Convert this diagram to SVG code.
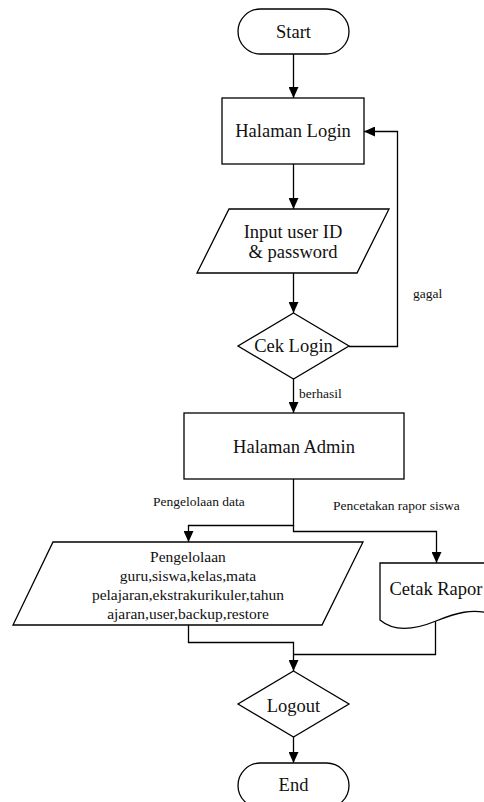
<svg xmlns="http://www.w3.org/2000/svg" width="484" height="802" viewBox="0 0 484 802">
<style>
.s{fill:#fff;stroke:#000;stroke-width:1.3}
.t{font-family:"Liberation Serif","Times New Roman",serif;font-size:18.5px;fill:#111;text-anchor:middle}
.p{font-family:"Liberation Serif","Times New Roman",serif;font-size:15.5px;fill:#111;text-anchor:middle}
.l{font-family:"Liberation Serif","Times New Roman",serif;font-size:13.5px;fill:#111}
.c{fill:none;stroke:#000;stroke-width:1.3}
</style>
<defs>
<marker id="a" markerUnits="userSpaceOnUse" markerWidth="11" markerHeight="10" refX="11" refY="5" orient="auto">
<path d="M0,0 L11,5 L0,10 Z" fill="#000"/>
</marker>
</defs>
<rect width="484" height="802" fill="#fff"/>
<g id="connectors">
<path class="c" d="M293.5,54 V98" marker-end="url(#a)"/>
<path class="c" d="M293.5,164 V209" marker-end="url(#a)"/>
<path class="c" d="M293.5,273 V313" marker-end="url(#a)"/>
<path class="c" d="M349,346.5 H397.5 V131.5 H364" marker-end="url(#a)"/>
<path class="c" d="M293.5,379 V413" marker-end="url(#a)"/>
<path class="c" d="M293.5,479 V525.5 H188.5 V542" marker-end="url(#a)"/>
<path class="c" d="M293.5,525 V531.5 H436.5 V563" marker-end="url(#a)"/>
<path class="c" d="M188.5,625 V642.5 H293.5 V671" marker-end="url(#a)"/>
<path class="c" d="M435.5,621 V654.5 H293.5"/>
<path class="c" d="M293.5,737 V763" marker-end="url(#a)"/>
<text class="l" x="413" y="298">gagal</text>
<text class="l" x="299" y="398">berhasil</text>
<text class="l" x="153" y="506">Pengelolaan data</text>
<text class="l" x="333" y="510">Pencetakan rapor siswa</text>
</g>
<g id="start">
<rect class="s" x="238" y="9" width="111" height="45" rx="22.5"/>
<text class="t" x="293.5" y="38">Start</text>
</g>
<g id="halaman-login">
<rect class="s" x="222" y="98" width="142" height="66"/>
<text class="t" x="293" y="137">Halaman Login</text>
</g>
<g id="input-login">
<polygon class="s" points="229,209 389,209 357,273 197,273"/>
<text class="t" x="293" y="238">Input user ID</text>
<text class="t" x="293" y="258">&amp; password</text>
</g>
<g id="cek-login">
<polygon class="s" points="293.5,313 349,346 293.5,379 238,346"/>
<text class="t" x="293.5" y="352">Cek Login</text>
</g>
<g id="halaman-admin">
<rect class="s" x="184" y="413" width="220" height="66"/>
<text class="t" x="294" y="453">Halaman Admin</text>
</g>
<g id="pengelolaan">
<polygon class="s" points="53,542 363,542 322,625 13,625"/>
<text class="p" x="188" y="562">Pengelolaan</text>
<text class="p" x="188" y="581">guru,siswa,kelas,mata</text>
<text class="p" x="188" y="600">pelajaran,ekstrakurikuler,tahun</text>
<text class="p" x="188" y="619">ajaran,user,backup,restore</text>
</g>
<g id="cetak-rapor">
<path class="s" d="M380,563 H492 V614 C472,608 456,613 436,621 C414,630 394,632 380,620 Z"/>
<text class="t" x="436" y="595">Cetak Rapor</text>
</g>
<g id="logout">
<polygon class="s" points="293.5,671 349,704 293.5,737 238,704"/>
<text class="t" x="293.5" y="712">Logout</text>
</g>
<g id="end">
<rect class="s" x="238" y="763" width="111" height="45" rx="22.5"/>
<text class="t" x="293.5" y="791">End</text>
</g>
</svg>
